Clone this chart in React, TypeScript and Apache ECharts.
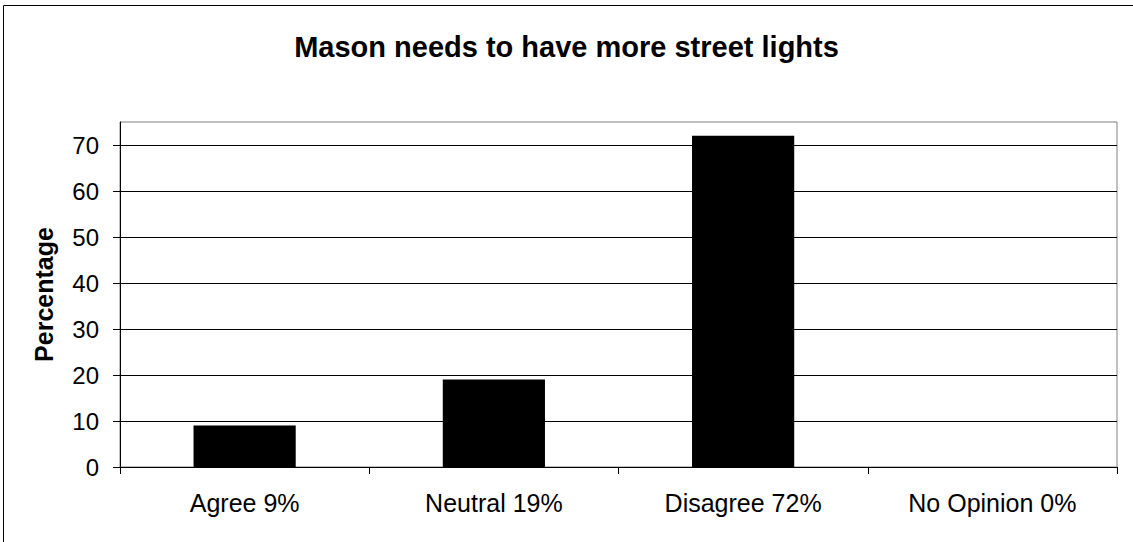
import React, { useEffect, useRef } from "react";
import * as echarts from "echarts";

const categories = ["Agree 9%", "Neutral 19%", "Disagree 72%", "No Opinion 0%"];
const percentages = [9, 19, 72, 0];
const chartTitle = "Mason needs to have more street lights";
const yAxisName = "Percentage";

export default function App() {
  const ref = useRef<HTMLDivElement>(null);
  useEffect(() => {
    if (!ref.current) return;
    const chart = echarts.init(ref.current, null, { renderer: "svg" });
    const font = "Arial, 'Liberation Sans', sans-serif";
    chart.setOption({
      animation: false,
      backgroundColor: "#ffffff",
      title: {
        text: chartTitle,
        left: "center",
        top: 27,
        textStyle: { fontFamily: font, fontSize: 29, fontWeight: "bold", color: "#000" },
      },
      graphic: [
        {
          type: "rect",
          shape: { x: 3.5, y: 5.5, width: 1300, height: 700 },
          style: { fill: "none", stroke: "#000", lineWidth: 1 },
          silent: true,
        },
      ],
      grid: {
        left: 120,
        top: 122,
        width: 997,
        height: 345,
        show: true,
        borderColor: "#808080",
        borderWidth: 1,
        containLabel: false,
      },
      xAxis: {
        type: "category",
        data: categories,
        boundaryGap: true,
        axisLine: { show: true, lineStyle: { color: "#000", width: 1 } },
        axisTick: { show: true, alignWithLabel: false, length: 7, inside: false, lineStyle: { color: "#000" } },
        axisLabel: { fontFamily: font, fontSize: 25, color: "#000", margin: 23 },
      },
      yAxis: {
        type: "value",
        min: 0,
        max: 75,
        interval: 10,
        name: yAxisName,
        nameLocation: "middle",
        nameGap: 64,
        nameRotate: 90,
        nameTextStyle: { fontFamily: font, fontSize: 25, fontWeight: "bold", color: "#000" },
        axisLine: { show: true, lineStyle: { color: "#000", width: 1 } },
        axisTick: { show: true, length: 7, lineStyle: { color: "#000" } },
        axisLabel: { fontFamily: font, fontSize: 24, color: "#000", margin: 21, showMaxLabel: false },
        splitLine: { show: true, showMaxLine: false, lineStyle: { color: "#000", width: 1 } },
      },
      series: [
        {
          type: "bar",
          data: percentages,
          barWidth: "41%",
          itemStyle: { color: "#000", borderWidth: 0 },
        },
      ],
    });
    return () => chart.dispose();
  }, []);
  return (
    <div
      ref={ref}
      style={{ position: "absolute", left: 0, top: 0, width: 1133, height: 542 }}
    />
  );
}
